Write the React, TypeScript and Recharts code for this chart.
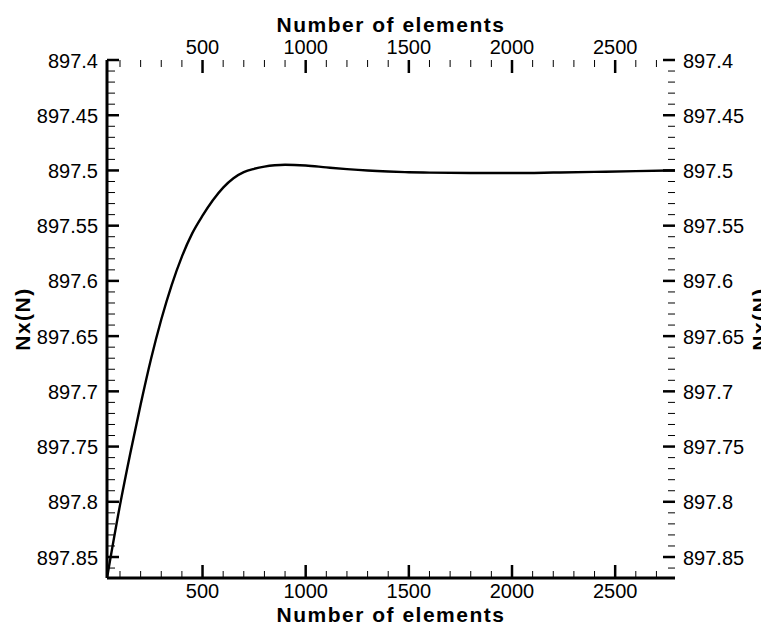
import { LineChart, Line, XAxis, YAxis } from "recharts";

// Number of elements vs. Nx(N)
const elements = [
  37, 100, 150, 200, 250, 300, 350, 400, 450, 500, 550, 600, 650, 700, 750, 800, 850, 900,
  1000, 1100, 1200, 1300, 1400, 1500, 1600, 1800, 2000, 2200, 2400, 2600, 2790,
];
const nx = [
  897.869, 897.803, 897.756, 897.712, 897.671, 897.635, 897.604, 897.578, 897.557, 897.541,
  897.527, 897.5155, 897.507, 897.5015, 897.4985, 897.4965, 897.4953, 897.4948,
  897.4955, 897.4972, 897.4988, 897.5001, 897.501, 897.5016, 897.502, 897.5023, 897.5023,
  897.5019, 897.5013, 897.5006, 897.5,
];

const xMajor = [500, 1000, 1500, 2000, 2500];
const xMajorLabels = ["500", "1000", "1500", "2000", "2500"];
const yMajor = [897.4, 897.45, 897.5, 897.55, 897.6, 897.65, 897.7, 897.75, 897.8, 897.85];
const yMajorLabels = ["897.4", "897.45", "897.5", "897.55", "897.6", "897.65", "897.7", "897.75", "897.8", "897.85"];

const X_DOMAIN: [number, number] = [37, 2790];
const Y_DOMAIN: [number, number] = [897.4, 897.869];

const data = elements.map((e, i) => ({ e, nx: nx[i] }));

// minor ticks every 100 elements / every 0.01 N
const xTicks: number[] = [];
for (let v = 100; v <= 2700; v += 100) xTicks.push(v);
const yTicks: number[] = [];
for (let i = 0; i <= 46; i++) yTicks.push(Math.round((897.4 + i * 0.01) * 100) / 100);

const FONT = "'Liberation Sans', Arial, Helvetica, sans-serif";
const W = 761;
const H = 618;

function majorLabel(values: number[], labels: string[], v: number): string | null {
  const i = values.findIndex((m) => Math.abs(m - v) < 1e-6);
  return i >= 0 ? labels[i] : null;
}

const tickText = { fontFamily: FONT, fontSize: 20, fill: "#000" };

const LeftTick = ({ x, y, payload }: any) => {
  const lab = majorLabel(yMajor, yMajorLabels, payload.value);
  return (
    <g>
      <line x1={x} y1={y} x2={x + (lab ? 12 : 8)} y2={y} stroke="#000" strokeWidth={lab ? 2.5 : 1} />
      {lab && (
        <text x={x - 9} y={y + 7.5} textAnchor="end" {...tickText}>
          {lab}
        </text>
      )}
    </g>
  );
};

const RightTick = ({ x, y, payload }: any) => {
  const lab = majorLabel(yMajor, yMajorLabels, payload.value);
  return (
    <g>
      <line x1={x - (lab ? 12 : 7)} y1={y} x2={x} y2={y} stroke="#000" strokeWidth={lab ? 2.5 : 1} />
      {lab && (
        <text x={x + 8} y={y + 7.5} textAnchor="start" {...tickText}>
          {lab}
        </text>
      )}
    </g>
  );
};

const TopTick = ({ x, y, payload }: any) => {
  const lab = majorLabel(xMajor, xMajorLabels, payload.value);
  return (
    <g>
      <line x1={x} y1={y} x2={x} y2={y + (lab ? 13 : 7)} stroke="#000" strokeWidth={lab ? 2.5 : 1} />
      {lab && (
        <text x={x} y={y - 6} textAnchor="middle" {...tickText}>
          {lab}
        </text>
      )}
    </g>
  );
};

const BottomTick = ({ x, y, payload }: any) => {
  const lab = majorLabel(xMajor, xMajorLabels, payload.value);
  return (
    <g>
      <line x1={x} y1={y - (lab ? 13 : 7)} x2={x} y2={y} stroke="#000" strokeWidth={lab ? 2.5 : 1} />
      {lab && (
        <text x={x} y={y + 19.5} textAnchor="middle" {...tickText}>
          {lab}
        </text>
      )}
    </g>
  );
};

const titleStyle = { fontFamily: FONT, fontSize: 21, fontWeight: 700, fill: "#000", letterSpacing: 1.5 };

export default function App() {
  return (
    <div style={{ position: "relative", width: W, height: H }}>
      <LineChart width={W} height={H} data={data} margin={{ top: 0, right: 0, bottom: 0, left: 0 }}>
        <XAxis
          xAxisId="bottom"
          dataKey="e"
          type="number"
          orientation="bottom"
          domain={X_DOMAIN}
          allowDataOverflow
          ticks={xTicks}
          interval={0}
          height={48}
          tickSize={0}
          tickMargin={0}
          tickLine={false}
          axisLine={{ stroke: "#000", strokeWidth: 3 }}
          tick={<BottomTick />}
        />
        <XAxis
          xAxisId="top"
          dataKey="e"
          type="number"
          orientation="top"
          domain={X_DOMAIN}
          allowDataOverflow
          ticks={xTicks}
          interval={0}
          height={52}
          tickSize={0}
          tickMargin={0}
          tickLine={false}
          axisLine={false}
          tick={<TopTick />}
        />
        <YAxis
          yAxisId="left"
          type="number"
          orientation="left"
          domain={Y_DOMAIN}
          reversed
          allowDataOverflow
          ticks={yTicks}
          interval={0}
          width={99}
          tickSize={0}
          tickMargin={0}
          tickLine={false}
          axisLine={{ stroke: "#000", strokeWidth: 3 }}
          tick={<LeftTick />}
        />
        <YAxis
          yAxisId="right"
          type="number"
          orientation="right"
          domain={Y_DOMAIN}
          reversed
          allowDataOverflow
          ticks={yTicks}
          interval={0}
          width={94}
          tickSize={0}
          tickMargin={0}
          tickLine={false}
          axisLine={false}
          tick={<RightTick />}
        />
        <Line
          xAxisId="bottom"
          yAxisId="left"
          dataKey="nx"
          type="monotone"
          stroke="#000"
          strokeWidth={2.4}
          dot={false}
          isAnimationActive={false}
        />
        <Line
          xAxisId="top"
          yAxisId="right"
          dataKey="nx"
          type="monotone"
          stroke="none"
          dot={false}
          isAnimationActive={false}
        />
      </LineChart>
      <svg width={W} height={H} style={{ position: "absolute", left: 0, top: 0, pointerEvents: "none" }}>
        <text x={383} y={23.5} textAnchor="middle" {...titleStyle}>
          Number of elements
        </text>
        <text x={383} y={613.5} textAnchor="middle" {...titleStyle}>
          Number of elements
        </text>
        <text x={22} y={311} textAnchor="middle" transform="rotate(-90 22 311)" {...titleStyle}>
          Nx(N)
        </text>
        <text x={759} y={311} textAnchor="middle" transform="rotate(-90 759 311)" {...titleStyle}>
          Nx(N)
        </text>
      </svg>
    </div>
  );
}
